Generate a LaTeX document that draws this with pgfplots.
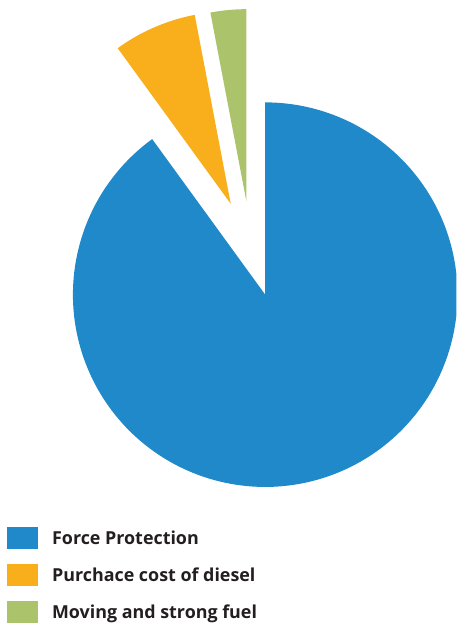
\documentclass[border=0pt]{standalone}
\usepackage{pgfplots}
\usepackage{pgfplotstable}
\pgfplotsset{compat=1.18}
\usepackage{fontspec}
\setmainfont{Open Sans}
\definecolor{cblue}{RGB}{31,137,202}
\definecolor{corange}{RGB}{249,174,27}
\definecolor{cgreen}{RGB}{171,196,108}
\definecolor{ctext}{RGB}{35,31,32}

% share of each slice, percent
\pgfplotstableread{
label value dx dy
Force 90 0 0
Purchase 7 -34.5 91
Moving 3 -18.8 93.3
}\piedata

\pgfplotstablegetelem{0}{value}\of\piedata \let\vA\pgfplotsretval
\pgfplotstablegetelem{1}{value}\of\piedata \let\vB\pgfplotsretval
\pgfplotstablegetelem{2}{value}\of\piedata \let\vC\pgfplotsretval
\pgfplotstablegetelem{1}{dx}\of\piedata \let\dxB\pgfplotsretval
\pgfplotstablegetelem{1}{dy}\of\piedata \let\dyB\pgfplotsretval
\pgfplotstablegetelem{2}{dx}\of\piedata \let\dxC\pgfplotsretval
\pgfplotstablegetelem{2}{dy}\of\piedata \let\dyC\pgfplotsretval

\def\cx{265.5}
\def\cy{328}
\def\rr{192.5}
% green from 90 upwards (counter-clockwise), then orange, then blue
\pgfmathsetmacro{\aC}{90+3.6*\vC}
\pgfmathsetmacro{\aB}{\aC+3.6*\vB}
\pgfmathsetmacro{\aA}{\aB+3.6*\vA}
\pgfmathsetmacro{\cxB}{\cx+\dxB}
\pgfmathsetmacro{\cyB}{\cy+\dyB}
\pgfmathsetmacro{\cxC}{\cx+\dxC}
\pgfmathsetmacro{\cyC}{\cy+\dyC}

\begin{document}
\begin{tikzpicture}
\begin{axis}[
  x=1bp, y=1bp,
  xmin=0, xmax=457, ymin=0, ymax=623,
  hide axis,
  legend cell align=left,
  legend image code/.code={\fill[#1] (0bp,-11bp) rectangle (31bp,11bp);},
  legend style={
    at={(axis cs:6.7,95.7)}, anchor=north west,
    draw=none, fill=none, inner sep=0pt, outer sep=0pt,
    row sep=15.2bp, column sep=12.5bp,
    font=\fontsize{17.9bp}{21bp}\selectfont\bfseries\color{ctext},
    cells={anchor=west, text height=15.4bp, text depth=0bp, inner xsep=0pt, inner ysep=0pt},
  },
]
\addplot[draw=none, forget plot] coordinates {(0,0) (457,623)};
\addplot[fill=cblue, draw=none, domain=\aB:\aA, samples=200, variable=\t]
  ({\cx+\rr*cos(t)}, {\cy+\rr*sin(t)}) -- (axis cs:\cx,\cy) -- cycle;
\addlegendentry{Force Protection}
\addplot[fill=corange, draw=none, domain=\aC:\aB, samples=30, variable=\t]
  ({\cxB+\rr*cos(t)}, {\cyB+\rr*sin(t)}) -- (axis cs:\cxB,\cyB) -- cycle;
\addlegendentry{Purchace cost of diesel}
\addplot[fill=cgreen, draw=none, domain=90:\aC, samples=20, variable=\t]
  ({\cxC+\rr*cos(t)}, {\cyC+\rr*sin(t)}) -- (axis cs:\cxC,\cyC) -- cycle;
\addlegendentry{Moving and strong fuel}
\end{axis}
\end{tikzpicture}
\end{document}
